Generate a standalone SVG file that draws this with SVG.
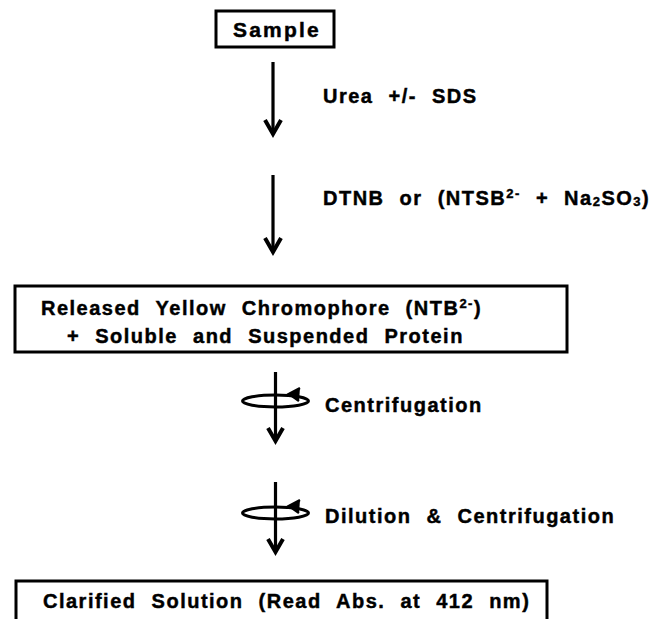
<svg xmlns="http://www.w3.org/2000/svg" width="657" height="619" viewBox="0 0 657 619">
<style>
text{font-family:"Liberation Sans",Arial,sans-serif;font-weight:bold;font-size:20px;fill:#000;stroke:#000;stroke-width:0.45px;letter-spacing:1.5px;word-spacing:8px}
.box{fill:#fff;stroke:#000;stroke-width:3}
.ln{stroke:#000;stroke-width:3.2;fill:none}
.ah{fill:none;stroke:#000;stroke-width:4;stroke-linejoin:miter;stroke-linecap:butt}
.el{fill:none;stroke:#000;stroke-width:3}
.sup{font-size:13px}
</style>
<rect width="657" height="619" fill="#fff"/>
<g id="sample">
<rect class="box" x="216" y="11" width="118" height="36"/>
<text x="233" y="37" style="font-size:21px;letter-spacing:2.2px">Sample</text>
</g>
<g id="released">
<rect class="box" x="15" y="286" width="552" height="66"/>
<text x="41" y="315">Released Yellow Chromophore (NTB<tspan class="sup" dy="-7">2-</tspan><tspan dy="7">)</tspan></text>
<text x="67" y="343">+ Soluble and Suspended Protein</text>
</g>
<g id="clarified">
<path class="box" d="M16,621 V581 H547 V621"/>
<text x="43" y="608">Clarified Solution (Read Abs. at 412 nm)</text>
</g>
<g id="connectors">
<line class="ln" x1="273" y1="62" x2="273" y2="134"/>
<path class="ah" d="M265,120 L273,134 L281,120"/>
<text x="323" y="103">Urea +/- SDS</text>
<line class="ln" x1="273" y1="175" x2="273" y2="252"/>
<path class="ah" d="M265,238 L273,252 L281,238"/>
<text x="323" y="205">DTNB or (NTSB<tspan class="sup" dy="-7">2-</tspan><tspan dy="7"> + Na</tspan><tspan class="sup" dy="1">2</tspan><tspan dy="-1">SO</tspan><tspan class="sup" dy="1">3</tspan><tspan dy="-1">)</tspan></text>
<line class="ln" x1="275.5" y1="372" x2="275.5" y2="441"/>
<path class="ah" d="M268,428 L275.5,441 L283,428"/>
<ellipse class="el" cx="275.5" cy="401" rx="33" ry="6"/>
<path d="M300,388 L289,394 L299,401" fill="#000" stroke="#000" stroke-width="2.5" stroke-linejoin="miter"/>
<text x="325" y="412">Centrifugation</text>
<line class="ln" x1="275.5" y1="482" x2="275.5" y2="552"/>
<path class="ah" d="M268,539 L275.5,552 L283,539"/>
<ellipse class="el" cx="275.5" cy="513" rx="33" ry="6"/>
<path d="M300,500 L289,506 L299,513" fill="#000" stroke="#000" stroke-width="2.5" stroke-linejoin="miter"/>
<text x="325" y="523">Dilution &amp; Centrifugation</text>
</g>
</svg>
